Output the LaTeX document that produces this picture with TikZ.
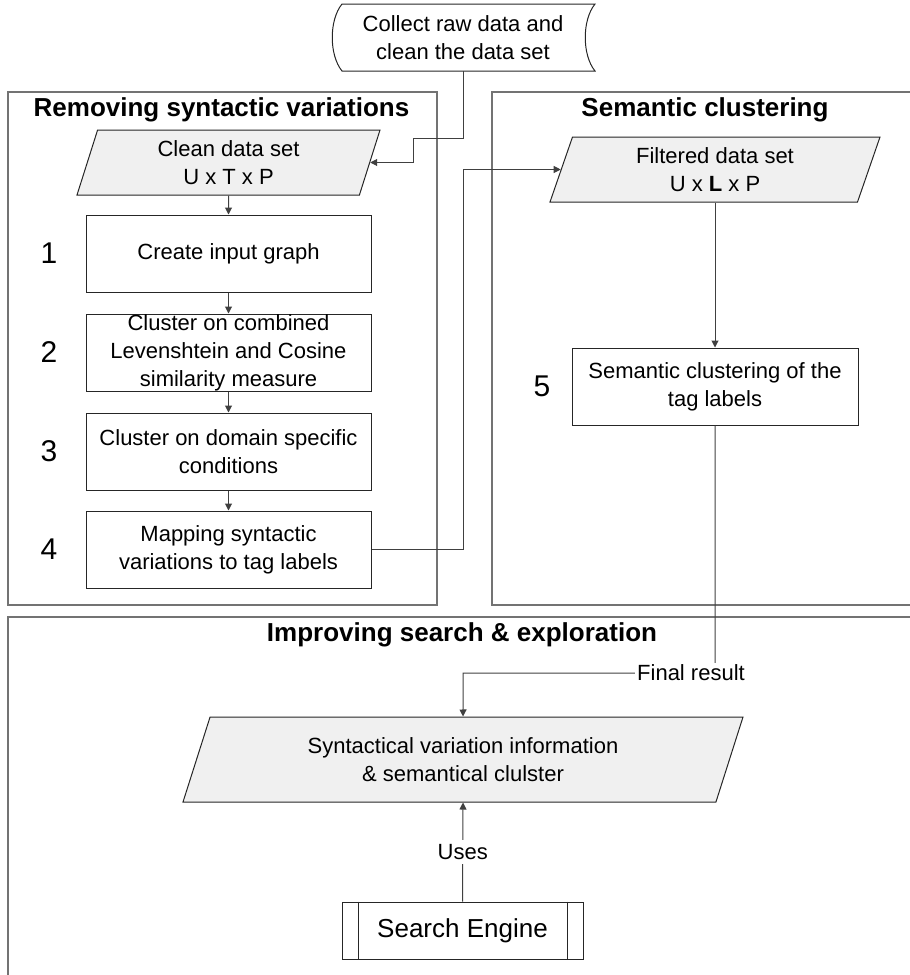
\documentclass[tikz,border=0pt]{standalone}
\usepackage{fontspec}
\setmainfont{Liberation Sans}
\usetikzlibrary{arrows.meta,shapes.geometric,calc}

\tikzset{
  every node/.style={font=\fontsize{11}{14}\selectfont},
  section/.style={draw=black!55, line width=0.6pt},
  heading/.style={font=\fontsize{13}{15}\selectfont\bfseries},
  stage/.style={draw=black!85, line width=0.5pt, align=center, minimum width=142.5pt, minimum height=38.5pt, inner sep=0pt},
  dataset/.style={trapezium, trapezium stretches body, draw=black!85, fill=black!6, align=center, inner sep=0pt, line width=0.5pt},
  stepnum/.style={font=\fontsize{15}{15}\selectfont},
  flow/.style={draw=black!75, line width=0.5pt, -{Triangle[length=3.5pt,width=3.5pt]}},
  link/.style={draw=black!75, line width=0.5pt},
}

\begin{document}
\begin{tikzpicture}[x=0.5pt, y=-0.5pt]
\useasboundingbox (0,0) rectangle (910,975);

% Sections
\draw[section] (8,92) rectangle (437,605);
\draw[section] (915,92) -- (492,92) -- (492,605) -- (915,605);
\draw[section] (915,617) -- (8,617) -- (8,980);
\node[heading] (head1) at (221.5,110) {Removing syntactic variations};
\node[heading] (head2) at (705,110) {Semantic clustering};
\node[heading] (head3) at (462,635) {Improving search \& exploration};

% Raw data (stored data shape)
\node[inner sep=0pt, minimum height=33.5pt, align=center] (collect) at (463,37.5) {Collect raw data and\\clean the data set};
\draw[draw=black!85, line width=0.5pt] (342,4) -- (595,4) .. controls (582,20) and (582,55) .. (595,71)
  -- (342,71) .. controls (329,55) and (329,20) .. (342,4) -- cycle;

% Data sets
\node[dataset, trapezium left angle=65, trapezium right angle=115, minimum width=151.5pt, minimum height=32.5pt] (clean) at (228.5,162.5) {Clean data set\\U x T x P};
\node[dataset, trapezium left angle=63, trapezium right angle=117, minimum width=165pt, minimum height=32.5pt] (filtered) at (715,169.5) {Filtered data set\\U x \textbf{L} x P};
\node[dataset, trapezium left angle=58.5, trapezium right angle=121.5, minimum width=280pt, minimum height=42.5pt] (info) at (463,759.5) {Syntactical variation information\\\& semantical clulster};

% Steps
\node[stage] (graph) at (228.5,253.5) {Create input graph};
\node[stage] (combined) at (228.5,352.5) {Cluster on combined\\Levenshtein and Cosine\\similarity measure};
\node[stage] (domain) at (228.5,451.5) {Cluster on domain specific\\conditions};
\node[stage] (mapping) at (228.5,549.5) {Mapping syntactic\\variations to tag labels};
\node[stage, minimum width=143pt] (semantic) at (715,386.5) {Semantic clustering of the\\tag labels};
\foreach \n/\y in {1/253.5,2/352.5,3/451.5,4/549.5} {
    \node[stepnum] (num\n) at (49,\y) {\n};
}
\node[stepnum] (num5) at (542,386.5) {5};

% Search engine (predefined process)
\node[draw=black!85, line width=0.5pt, minimum width=120.5pt, minimum height=28.5pt, inner sep=0pt, font=\fontsize{13}{15}\selectfont] (engine) at (462.5,930.5) {Search Engine};
\draw[draw=black!85, line width=0.5pt] ([xshift=8.5pt]engine.north west) -- ([xshift=8.5pt]engine.south west);
\draw[draw=black!85, line width=0.5pt] ([xshift=-8pt]engine.north east) -- ([xshift=-8pt]engine.south east);

% Connectors
\draw[flow] (collect.south) |- (413,138) |- (clean.east);
\foreach \a/\b in {clean/graph, graph/combined, combined/domain, domain/mapping} {
    \draw[flow] (\a.south) -- (\b.north);
}
\draw[flow] (mapping.east) -- (463,549.5) |- (filtered.west);
\draw[flow] (filtered.south) -- (semantic.north);
\draw[flow] (semantic.south) |- (463,673) -- (info.north);
\node[fill=white, inner sep=1pt] (final) at (691,673) {Final result};
\draw[flow] (engine.north) -- node[fill=white, inner sep=2pt] (uses) {Uses} (info.south);

\end{tikzpicture}
\end{document}
